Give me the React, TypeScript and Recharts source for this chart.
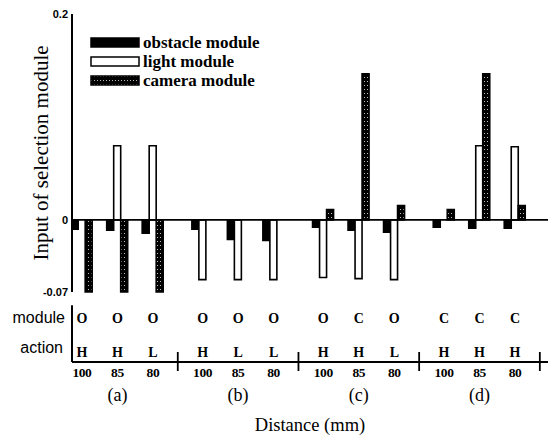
import { BarChart, Bar, XAxis, YAxis, ReferenceLine, Legend, Label } from 'recharts'

const GROUPS = ['(a)', '(b)', '(c)', '(d)']
const DISTANCES = ['100', '85', '80', '100', '85', '80', '100', '85', '80', '100', '85', '80']
const MODULE_ROW = ['O', 'O', 'O', 'O', 'O', 'O', 'O', 'C', 'O', 'C', 'C', 'C']
const ACTION_ROW = ['H', 'H', 'L', 'H', 'L', 'L', 'H', 'H', 'L', 'H', 'H', 'H']

const OBSTACLE = [-0.009, -0.01, -0.013, -0.009, -0.019, -0.02, -0.007, -0.01, -0.012, -0.007, -0.008, -0.008]
const LIGHT = [0, 0.072, 0.072, -0.058, -0.058, -0.058, -0.056, -0.057, -0.058, 0, 0.072, 0.071]
const CAMERA = [-0.07, -0.07, -0.07, 0, 0, 0, 0.01, 0.142, 0.014, 0.01, 0.142, 0.014]

const Y_TICKS = [-0.07, 0, 0.2]

const SERIF = '"Liberation Serif", "Times New Roman", serif'
const SANS = '"Liberation Sans", Arial, sans-serif'

// layout of the category axis: 3 distances per group, a wider gap between groups
const PER_GROUP = 3
const GROUP_STEP = 3.4
const X_MIN = -0.28
const X_MAX = 13.13
const Y_MAX = 0.2
const Y_MIN = -0.138 // room under the bars for the module / action rows
const ROW_AXIS_TOP = -0.083

const SERIES = [
  { key: 'obstacle', name: 'obstacle module', fill: '#000' },
  { key: 'light', name: 'light module', fill: '#fff' },
  { key: 'camera', name: 'camera module', fill: 'url(#camera-hatch)' },
]

const slotOf = (i: number) => Math.floor(i / PER_GROUP) * GROUP_STEP + (i % PER_GROUP)

const rows = OBSTACLE.map((v, i) => ({
  slot: slotOf(i),
  obstacle: v,
  light: LIGHT[i],
  camera: CAMERA[i],
}))

const catBySlot = new Map(
  DISTANCES.map((d, i) => [slotOf(i), { dist: d, module: MODULE_ROW[i], action: ACTION_ROW[i] }]),
)
const separators = GROUPS.map((_, g) => g * GROUP_STEP + PER_GROUP - 1 + 0.7)
const catTicks = [...rows.map(r => r.slot), ...separators].sort((a, b) => a - b)
const groupTicks = GROUPS.map((_, g) => slotOf(g * PER_GROUP + 1))
const groupLabel = new Map(groupTicks.map((t, g) => [t, GROUPS[g]]))

function CategoryTick({ x, y, payload }: any) {
  const cat = catBySlot.get(payload.value)
  if (!cat) {
    return <line x1={x} x2={x} y1={y - 10} y2={y + 9} stroke="#000" strokeWidth={1.8} />
  }
  const letter = { fontFamily: SERIF, fontWeight: 'bold', fontSize: 14, fill: '#000' }
  return (
    <g>
      <text x={x} y={y - 44} textAnchor="middle" dominantBaseline="central" {...letter}>{cat.module}</text>
      <text x={x} y={y - 10} textAnchor="middle" dominantBaseline="central" {...letter}>{cat.action}</text>
      <text x={x} y={y + 10} textAnchor="middle" dominantBaseline="central" {...letter} fontSize={13.5}
        letterSpacing={-0.4}>{cat.dist}</text>
    </g>
  )
}

function RowHeads({ viewBox }: any) {
  const { x, y } = viewBox
  const style = { fontFamily: SANS, fontSize: 16, fill: '#000' }
  return (
    <g>
      <text x={x - 7} y={y - 39} textAnchor="end" {...style}>module</text>
      <text x={x - 9} y={y - 9} textAnchor="end" {...style}>action</text>
    </g>
  )
}

function YTitle({ viewBox }: any) {
  const { x, y, height } = viewBox
  const mid = (Y_MAX + Y_TICKS[0]) / 2
  const cy = y + (height * (Y_MAX - mid)) / (Y_MAX - Y_MIN)
  const cx = x + 41
  return (
    <text x={cx} y={cy} transform={`rotate(-90 ${cx} ${cy})`} textAnchor="middle" dominantBaseline="central"
      fontFamily={SERIF} fontSize={21} fill="#000">
      Input of selection module
    </text>
  )
}

function LegendBox() {
  return (
    <div style={{ fontFamily: SERIF, fontWeight: 'bold', fontSize: 17, lineHeight: '19px', color: '#000' }}>
      {SERIES.map(s => (
        <div key={s.key} style={{ display: 'flex', alignItems: 'center', height: 19 }}>
          <svg width={50} height={11} style={{ marginRight: 3 }}>
            <rect x={1} y={1} width={48} height={9} fill={s.fill} stroke="#000" strokeWidth={1.5} />
          </svg>
          <span>{s.name}</span>
        </div>
      ))}
    </div>
  )
}

export default function App() {
  return (
    <div style={{ position: 'absolute', left: 0, top: 0, background: '#fff' }}>
      <BarChart width={550} height={443} data={rows} barSize={7} barGap={0}
        margin={{ top: 14, right: 2, bottom: 7, left: 0 }}>
        <defs>
          <pattern id="camera-hatch" patternUnits="userSpaceOnUse" width={3} height={4}>
            <rect width={3} height={4} fill="#000" />
            <rect x={1} y={1} width={1} height={1} fill="#bbb" />
          </pattern>
        </defs>
        <XAxis dataKey="slot" type="number" domain={[X_MIN, X_MAX]} allowDataOverflow ticks={catTicks}
          interval={0} height={24} tickSize={0} tickMargin={0} tickLine={false}
          axisLine={{ stroke: '#000', strokeWidth: 2 }} tick={<CategoryTick />}>
          <Label content={RowHeads} />
        </XAxis>
        <XAxis xAxisId="group" dataKey="slot" type="number" domain={[X_MIN, X_MAX]} allowDataOverflow
          ticks={groupTicks} interval={0} height={50} tickSize={0} tickMargin={2} tickLine={false} axisLine={false}
          tickFormatter={v => groupLabel.get(v) ?? ''}
          tick={{ fontFamily: SERIF, fontSize: 18, fill: '#000' }}>
          <Label value="Distance (mm)" position="insideBottom" offset={5}
            style={{ fontFamily: SERIF, fontSize: 18.5, fill: '#000' }} />
        </XAxis>
        <YAxis type="number" domain={[Y_MIN, Y_MAX]} allowDataOverflow ticks={Y_TICKS} interval={0} width={72}
          axisLine={false} tickLine={false} tickSize={3} tickMargin={1}
          tickFormatter={v => (v === 0 ? '0' : String(v))}
          tick={{ fontFamily: SANS, fontWeight: 'bold', fontSize: 11, fill: '#000' }}>
          <Label content={YTitle} />
        </YAxis>
        <Legend layout="vertical" verticalAlign="middle" align="center" content={<LegendBox />}
          wrapperStyle={{ left: 90, top: 33, width: 'auto' }} />
        <ReferenceLine segment={[{ x: X_MIN, y: Y_TICKS[0] }, { x: X_MIN, y: Y_MAX }]} stroke="#000" strokeWidth={2} />
        <ReferenceLine segment={[{ x: X_MIN, y: ROW_AXIS_TOP }, { x: X_MIN, y: Y_MIN }]} stroke="#000" strokeWidth={2} />
        {SERIES.map(s => (
          <Bar key={s.key} dataKey={s.key} name={s.name} fill={s.fill} stroke="#000" strokeWidth={1.6}
            isAnimationActive={false} />
        ))}
        <ReferenceLine y={0} stroke="#000" strokeWidth={1.6} />
      </BarChart>
    </div>
  )
}
